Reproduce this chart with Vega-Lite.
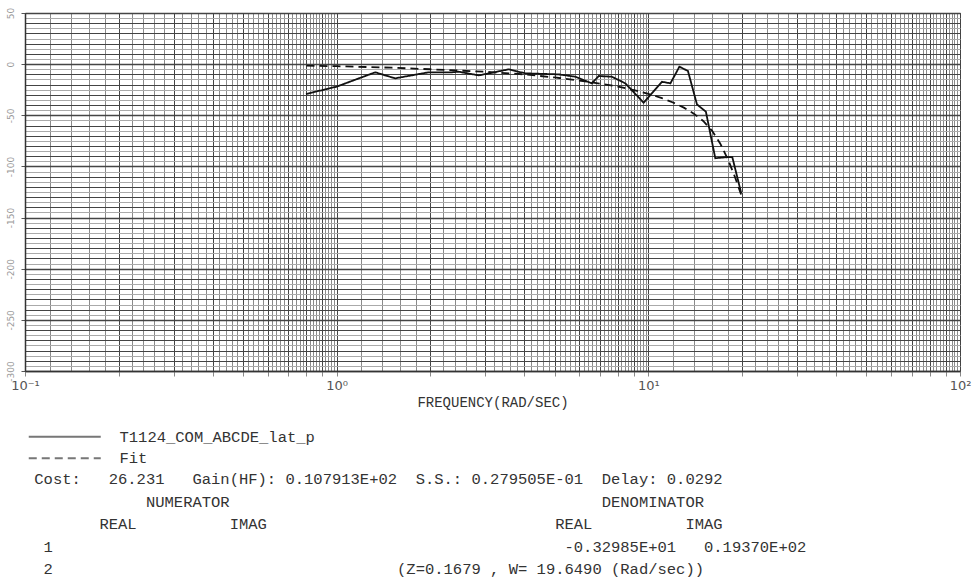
{
  "$schema": "https://vega.github.io/schema/vega-lite/v6.json",
  "width": 935,
  "height": 358,
  "autosize": {"type": "none"},
  "padding": {"left": 25, "top": 13, "right": 14, "bottom": 210},
  "background": "white",
  "config": {"view": {"stroke": "#333", "strokeWidth": 1}, "font": "Liberation Mono"},
  "title": {
    "text": [
      "\u200b\u00a0Cost:\u00a0\u00a0\u00a026.231\u00a0\u00a0\u00a0Gain(HF):\u00a00.107913E+02\u00a0\u00a0S.S.:\u00a00.279505E-01\u00a0\u00a0Delay:\u00a00.0292",
      "\u200b\u00a0\u00a0\u00a0\u00a0\u00a0\u00a0\u00a0\u00a0\u00a0\u00a0\u00a0\u00a0\u00a0NUMERATOR\u00a0\u00a0\u00a0\u00a0\u00a0\u00a0\u00a0\u00a0\u00a0\u00a0\u00a0\u00a0\u00a0\u00a0\u00a0\u00a0\u00a0\u00a0\u00a0\u00a0\u00a0\u00a0\u00a0\u00a0\u00a0\u00a0\u00a0\u00a0\u00a0\u00a0\u00a0\u00a0\u00a0\u00a0\u00a0\u00a0\u00a0\u00a0\u00a0\u00a0DENOMINATOR",
      "\u200b\u00a0\u00a0\u00a0\u00a0\u00a0\u00a0\u00a0\u00a0REAL\u00a0\u00a0\u00a0\u00a0\u00a0\u00a0\u00a0\u00a0\u00a0\u00a0IMAG\u00a0\u00a0\u00a0\u00a0\u00a0\u00a0\u00a0\u00a0\u00a0\u00a0\u00a0\u00a0\u00a0\u00a0\u00a0\u00a0\u00a0\u00a0\u00a0\u00a0\u00a0\u00a0\u00a0\u00a0\u00a0\u00a0\u00a0\u00a0\u00a0\u00a0\u00a0REAL\u00a0\u00a0\u00a0\u00a0\u00a0\u00a0\u00a0\u00a0\u00a0\u00a0IMAG",
      "\u200b\u00a0\u00a01\u00a0\u00a0\u00a0\u00a0\u00a0\u00a0\u00a0\u00a0\u00a0\u00a0\u00a0\u00a0\u00a0\u00a0\u00a0\u00a0\u00a0\u00a0\u00a0\u00a0\u00a0\u00a0\u00a0\u00a0\u00a0\u00a0\u00a0\u00a0\u00a0\u00a0\u00a0\u00a0\u00a0\u00a0\u00a0\u00a0\u00a0\u00a0\u00a0\u00a0\u00a0\u00a0\u00a0\u00a0\u00a0\u00a0\u00a0\u00a0\u00a0\u00a0\u00a0\u00a0\u00a0\u00a0\u00a0-0.32985E+01\u00a0\u00a0\u00a00.19370E+02",
      "\u200b\u00a0\u00a02\u00a0\u00a0\u00a0\u00a0\u00a0\u00a0\u00a0\u00a0\u00a0\u00a0\u00a0\u00a0\u00a0\u00a0\u00a0\u00a0\u00a0\u00a0\u00a0\u00a0\u00a0\u00a0\u00a0\u00a0\u00a0\u00a0\u00a0\u00a0\u00a0\u00a0\u00a0\u00a0\u00a0\u00a0\u00a0\u00a0\u00a0(Z=0.1679\u00a0,\u00a0W=\u00a019.6490\u00a0(Rad/sec))"
    ],
    "orient": "bottom",
    "anchor": "start",
    "frame": "group",
    "font": "Liberation Mono",
    "fontSize": 15.5,
    "fontWeight": "normal",
    "color": "#333",
    "lineHeight": 22.5,
    "baseline": "top",
    "offset": 5
  },
  "data": {
    "values": [
      {"series": "T1124_COM_ABCDE_lat_p", "freq": 0.797, "phase": -29.2},
      {"series": "T1124_COM_ABCDE_lat_p", "freq": 1.0, "phase": -22},
      {"series": "T1124_COM_ABCDE_lat_p", "freq": 1.2, "phase": -13},
      {"series": "T1124_COM_ABCDE_lat_p", "freq": 1.33, "phase": -8},
      {"series": "T1124_COM_ABCDE_lat_p", "freq": 1.54, "phase": -13.9},
      {"series": "T1124_COM_ABCDE_lat_p", "freq": 1.97, "phase": -8},
      {"series": "T1124_COM_ABCDE_lat_p", "freq": 2.34, "phase": -8},
      {"series": "T1124_COM_ABCDE_lat_p", "freq": 2.46, "phase": -7.4},
      {"series": "T1124_COM_ABCDE_lat_p", "freq": 2.86, "phase": -11},
      {"series": "T1124_COM_ABCDE_lat_p", "freq": 3.56, "phase": -5.1},
      {"series": "T1124_COM_ABCDE_lat_p", "freq": 4.03, "phase": -9},
      {"series": "T1124_COM_ABCDE_lat_p", "freq": 5.16, "phase": -10},
      {"series": "T1124_COM_ABCDE_lat_p", "freq": 5.83, "phase": -12.3},
      {"series": "T1124_COM_ABCDE_lat_p", "freq": 6.59, "phase": -18.8},
      {"series": "T1124_COM_ABCDE_lat_p", "freq": 6.93, "phase": -11.6},
      {"series": "T1124_COM_ABCDE_lat_p", "freq": 7.64, "phase": -12.3},
      {"series": "T1124_COM_ABCDE_lat_p", "freq": 8.44, "phase": -18.8},
      {"series": "T1124_COM_ABCDE_lat_p", "freq": 9.66, "phase": -37.7},
      {"series": "T1124_COM_ABCDE_lat_p", "freq": 10.15, "phase": -30.2},
      {"series": "T1124_COM_ABCDE_lat_p", "freq": 11.06, "phase": -17.2},
      {"series": "T1124_COM_ABCDE_lat_p", "freq": 11.77, "phase": -18.8},
      {"series": "T1124_COM_ABCDE_lat_p", "freq": 12.58, "phase": -2.5},
      {"series": "T1124_COM_ABCDE_lat_p", "freq": 13.4, "phase": -6.7},
      {"series": "T1124_COM_ABCDE_lat_p", "freq": 14.32, "phase": -39.3},
      {"series": "T1124_COM_ABCDE_lat_p", "freq": 15.3, "phase": -46.5},
      {"series": "T1124_COM_ABCDE_lat_p", "freq": 16.4, "phase": -92},
      {"series": "T1124_COM_ABCDE_lat_p", "freq": 17.75, "phase": -91},
      {"series": "T1124_COM_ABCDE_lat_p", "freq": 18.6, "phase": -91},
      {"series": "T1124_COM_ABCDE_lat_p", "freq": 19.87, "phase": -126.3},
      {"series": "Fit", "freq": 0.8, "phase": -1.5},
      {"series": "Fit", "freq": 1.0, "phase": -2},
      {"series": "Fit", "freq": 1.5, "phase": -3.5},
      {"series": "Fit", "freq": 2, "phase": -5},
      {"series": "Fit", "freq": 3, "phase": -7.5},
      {"series": "Fit", "freq": 4, "phase": -10},
      {"series": "Fit", "freq": 5, "phase": -13},
      {"series": "Fit", "freq": 6, "phase": -16},
      {"series": "Fit", "freq": 7, "phase": -19},
      {"series": "Fit", "freq": 8, "phase": -22},
      {"series": "Fit", "freq": 9, "phase": -25.5},
      {"series": "Fit", "freq": 10, "phase": -29},
      {"series": "Fit", "freq": 11, "phase": -33},
      {"series": "Fit", "freq": 12, "phase": -37.5},
      {"series": "Fit", "freq": 13, "phase": -42.5},
      {"series": "Fit", "freq": 14, "phase": -48.5},
      {"series": "Fit", "freq": 15, "phase": -55.5},
      {"series": "Fit", "freq": 16, "phase": -65},
      {"series": "Fit", "freq": 17, "phase": -77.5},
      {"series": "Fit", "freq": 18, "phase": -93},
      {"series": "Fit", "freq": 19, "phase": -111},
      {"series": "Fit", "freq": 19.87, "phase": -128}
    ]
  },
  "mark": {"type": "line", "color": "#111", "strokeWidth": 1.8},
  "encoding": {
    "x": {
      "field": "freq",
      "type": "quantitative",
      "scale": {"type": "log", "domain": [0.1, 100], "nice": false},
      "axis": {
        "values": [0.1,0.12,0.14,0.16,0.18,0.2,0.22,0.24,0.26,0.28,0.3,0.32,0.34,0.36,0.38,0.4,0.42,0.44,0.46,0.48,0.5,0.52,0.54,0.56,0.58,0.6,0.62,0.64,0.66,0.68,0.7,0.72,0.74,0.76,0.78,0.8,0.82,0.84,0.86,0.88,0.9,0.92,0.94,0.96,0.98,1,1.2,1.4,1.6,1.8,2,2.2,2.4,2.6,2.8,3,3.2,3.4,3.6,3.8,4,4.2,4.4,4.6,4.8,5,5.2,5.4,5.6,5.8,6,6.2,6.4,6.6,6.8,7,7.2,7.4,7.6,7.8,8,8.2,8.4,8.6,8.8,9,9.2,9.4,9.6,9.8,10,12,14,16,18,20,22,24,26,28,30,32,34,36,38,40,42,44,46,48,50,52,54,56,58,60,62,64,66,68,70,72,74,76,78,80,82,84,86,88,90,92,94,96,98,100],
        "grid": true,
        "gridColor": {"condition": {"test": "datum.value < 0.99 ? abs(datum.value*10 - round(datum.value*10)) < 0.001 : datum.value < 9.9 ? abs(datum.value - round(datum.value)) < 0.001 : abs(datum.value/10 - round(datum.value/10)) < 0.001", "value": "#444"}, "value": "#8a8a8a"},
        "gridWidth": 1,
        "tickColor": "#888",
        "tickSize": 5,
        "tickOpacity": {"condition": {"test": "datum.value < 0.99 ? abs(datum.value*10 - round(datum.value*10)) < 0.001 : datum.value < 9.9 ? abs(datum.value - round(datum.value)) < 0.001 : abs(datum.value/10 - round(datum.value/10)) < 0.001", "value": 1}, "value": 0},
        "domainColor": "#333",
        "domainWidth": 1.5,
        "labelExpr": "abs(datum.value-0.1)<1e-9 ? '10⁻¹' : abs(datum.value-1)<1e-9 ? '10⁰' : abs(datum.value-10)<1e-9 ? '10¹' : abs(datum.value-100)<1e-9 ? '10²' : ''",
        "labelOverlap": false,
        "labelFlush": false,
        "labelFont": "DejaVu Sans",
        "labelFontSize": 13,
        "labelColor": "#555",
        "labelPadding": 3,
        "title": "FREQUENCY(RAD/SEC)",
        "titleFont": "Liberation Mono",
        "titleFontSize": 14,
        "titleFontWeight": "normal",
        "titleColor": "#333",
        "titlePadding": 3
      }
    },
    "y": {
      "field": "phase",
      "type": "quantitative",
      "scale": {"domain": [-300, 50], "nice": false, "zero": false},
      "axis": {
        "values": [-300,-295,-290,-285,-280,-275,-270,-265,-260,-255,-250,-245,-240,-235,-230,-225,-220,-215,-210,-205,-200,-195,-190,-185,-180,-175,-170,-165,-160,-155,-150,-145,-140,-135,-130,-125,-120,-115,-110,-105,-100,-95,-90,-85,-80,-75,-70,-65,-60,-55,-50,-45,-40,-35,-30,-25,-20,-15,-10,-5,0,5,10,15,20,25,30,35,40,45,50],
        "grid": true,
        "gridColor": {"condition": {"test": "datum.value % 10 == 0", "value": "#444"}, "value": "#aaa"},
        "gridWidth": {"condition": {"test": "datum.value % 50 == 0", "value": 1.5}, "value": 1},
        "tickColor": "#555",
        "tickSize": 4,
        "tickOpacity": {"condition": {"test": "datum.value % 50 == 0", "value": 1}, "value": 0},
        "domainColor": "#333",
        "domainWidth": 1.5,
        "labelExpr": "datum.value % 50 == 0 ? '' + datum.value : ''",
        "labelAngle": 270,
        "labelAlign": "center",
        "labelBaseline": "bottom",
        "labelFont": "DejaVu Sans",
        "labelFontSize": 9,
        "labelColor": "#999",
        "labelPadding": 6,
        "labelOverlap": false,
        "labelFlush": false,
        "title": null
      }
    },
    "strokeDash": {
      "field": "series",
      "type": "nominal",
      "scale": {"domain": ["T1124_COM_ABCDE_lat_p", "Fit"], "range": [[1, 0], [8, 5]]},
      "legend": {
        "orient": "none",
        "legendX": 32,
        "legendY": 416,
        "title": null,
        "symbolType": "M-36,0L36,0",
        "symbolSize": 4,
        "symbolStrokeWidth": 2,
        "symbolStrokeColor": "#777",
        "labelFont": "Liberation Mono",
        "labelFontSize": 15.5,
        "labelColor": "#333",
        "labelOffset": 47,
        "labelLimit": 0,
        "rowPadding": 4.5,
        "padding": 0
      }
    }
  }
}
